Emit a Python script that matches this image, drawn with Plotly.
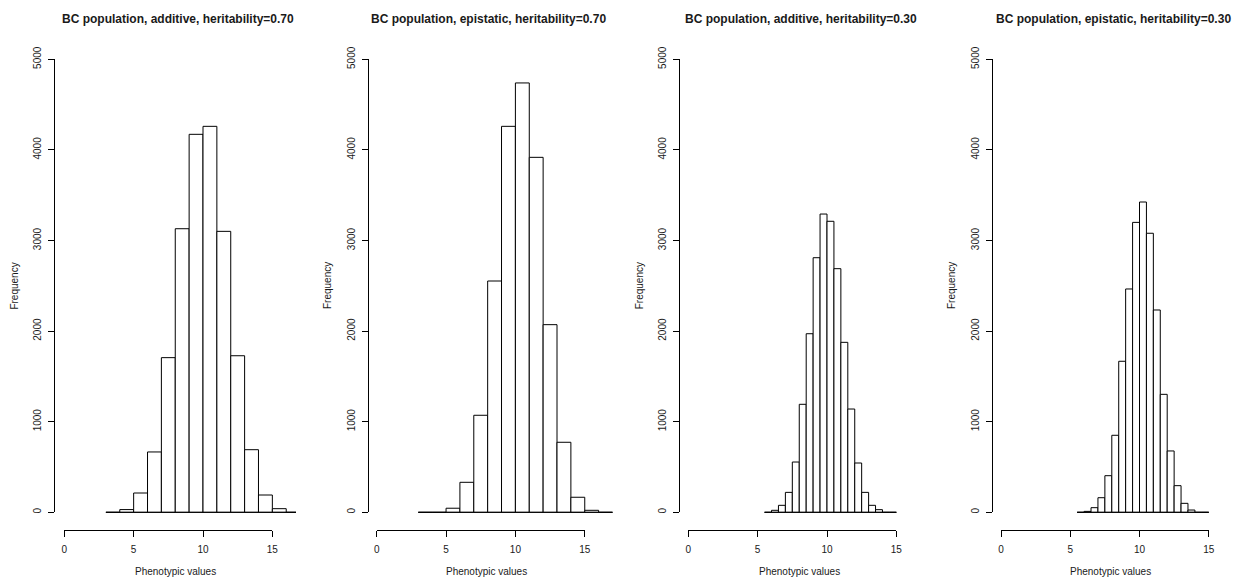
import plotly.graph_objects as go

# ---------------- data ----------------
titles = [
    "BC population, additive, heritability=0.70",
    "BC population, epistatic, heritability=0.70",
    "BC population, additive, heritability=0.30",
    "BC population, epistatic, heritability=0.30",
]
x_label = "Phenotypic values"
y_label = "Frequency"
x_ticks = [0, 5, 10, 15]
y_ticks = [0, 1000, 2000, 3000, 4000, 5000]

# histogram bin starts and widths
first_break = [3.0, 3.0, 5.5, 5.5]
bin_width = [1.0, 1.0, 0.5, 0.5]

counts_add_070 = [0, 30, 213, 666, 1707, 3130, 4172, 4260, 3101, 1728, 691, 191, 40, 0]
counts_epi_070 = [0, 0, 45, 331, 1071, 2553, 4260, 4739, 3918, 2071, 773, 166, 22, 0]
counts_add_030 = [0, 22, 77, 220, 555, 1192, 1971, 2810, 3292, 3212, 2689, 1876,
                  1140, 544, 220, 77, 29, 0, 0]
counts_epi_030 = [0, 10, 51, 161, 404, 850, 1667, 2465, 3200, 3425, 3080, 2233,
                  1302, 677, 294, 99, 25, 0, 0]
all_counts = [counts_add_070, counts_epi_070, counts_add_030, counts_epi_030]

# ---------------- layout geometry (pixels) ----------------
W, H = 1233, 578
x0_px = [64.3, 376.7, 688.3, 1001.0]      # pixel of x = 0
unit_px = [13.87, 13.87, 13.87, 13.85]    # pixels per x unit
yline_px = [54.3, 367.7, 679.0, 991.7]    # y axis line
right_px = [296.0, 614.0, 922.0, 1233.0]  # right edge of plot region
title_cx = [177.5, 488.0, 800.8, 1113.0]
xlab_cx = [175.0, 486.7, 799.3, 1110.7]

y_zero_px, y_5000_px = 512.3, 59.3
y_per = (y_zero_px - y_5000_px) / 5000.0
plot_bottom_px = y_zero_px + 200 * y_per
plot_top_px = y_zero_px - 5200 * y_per

FONT = "Liberation Sans, Arial, sans-serif"
TXT = "#1a1a1a"

fig = go.Figure()
layout = dict(
    width=W, height=H,
    margin=dict(l=0, r=0, t=0, b=0, pad=0, autoexpand=False),
    paper_bgcolor="white", plot_bgcolor="rgba(0,0,0,0)",
    showlegend=False, font=dict(family=FONT, size=10, color=TXT),
    annotations=[],
)

for i in range(4):
    k = i + 1
    d = i + 5
    counts = all_counts[i]
    w = bin_width[i]
    edges = [first_break[i] + j * w for j in range(len(counts) + 1)]
    centers = [e + w / 2 for e in edges[:-1]]

    xa = f"x{k}"
    ya = f"y{k}"
    # zero-count baseline from the first to the last break
    fig.add_trace(go.Scatter(
        x=[edges[0], edges[-1]], y=[0, 0], mode="lines",
        line=dict(color="black", width=1), xaxis=xa, yaxis=ya,
        hoverinfo="skip"))
    fig.add_trace(go.Bar(
        x=centers, y=counts, width=[w] * len(counts),
        marker=dict(color="white", line=dict(color="black", width=1)),
        xaxis=xa, yaxis=ya))
    # empty trace to host the R-style display axes
    fig.add_trace(go.Scatter(x=[None], y=[None], xaxis=f"x{d}", yaxis=f"y{d}",
                             hoverinfo="skip"))

    lo = (yline_px[i] - x0_px[i]) / unit_px[i]
    hi = (right_px[i] - x0_px[i]) / unit_px[i]
    layout[f"xaxis{k}"] = dict(
        domain=[yline_px[i] / W, min(right_px[i] / W, 1.0)], range=[lo, hi],
        visible=False, anchor=ya)
    layout[f"yaxis{k}"] = dict(
        domain=[1 - plot_bottom_px / H, 1 - plot_top_px / H], range=[-200, 5200],
        visible=False, anchor=xa)

    layout[f"xaxis{d}"] = dict(
        domain=[x0_px[i] / W, (x0_px[i] + 15 * unit_px[i]) / W], range=[0, 15],
        anchor="free", position=1 - plot_bottom_px / H,
        showline=True, linecolor="black", linewidth=1,
        ticks="outside", ticklen=6, tickcolor="black", tickwidth=1,
        tickvals=x_ticks, showgrid=False, zeroline=False,
        ticklabelstandoff=4,
        tickfont=dict(family=FONT, size=10, color=TXT))
    layout[f"yaxis{d}"] = dict(
        domain=[1 - y_zero_px / H, 1 - y_5000_px / H], range=[0, 5000],
        anchor="free", position=yline_px[i] / W,
        showline=True, linecolor="black", linewidth=1,
        ticks="outside", ticklen=6, tickcolor="black", tickwidth=1,
        tickvals=y_ticks, tickangle=-90, showgrid=False, zeroline=False,
        ticklabelstandoff=3,
        tickfont=dict(family=FONT, size=10, color=TXT))

    layout["annotations"] += [
        dict(text=f"<b>{titles[i]}</b>", x=title_cx[i] / W, y=1 - 19.3 / H,
             xref="paper", yref="paper", showarrow=False,
             xanchor="center", yanchor="middle",
             font=dict(family=FONT, size=12, color=TXT)),
        dict(text=x_label, x=xlab_cx[i] / W, y=1 - 571.7 / H,
             xref="paper", yref="paper", showarrow=False,
             xanchor="center", yanchor="middle",
             font=dict(family=FONT, size=10, color=TXT)),
        dict(text=y_label, x=(yline_px[i] - 39.5) / W,
             y=1 - (plot_top_px + plot_bottom_px) / 2 / H,
             xref="paper", yref="paper", showarrow=False, textangle=-90,
             xanchor="center", yanchor="middle",
             font=dict(family=FONT, size=10, color=TXT)),
    ]

fig.update_layout(**layout)
fig.update_layout(bargap=0, hovermode=False)
fig.write_html(
    "out.html",
    config={"displayModeBar": False, "staticPlot": True},
    post_script="document.body.style.margin='0';document.body.style.padding='0';"
                "document.body.style.overflow='hidden';",
)
